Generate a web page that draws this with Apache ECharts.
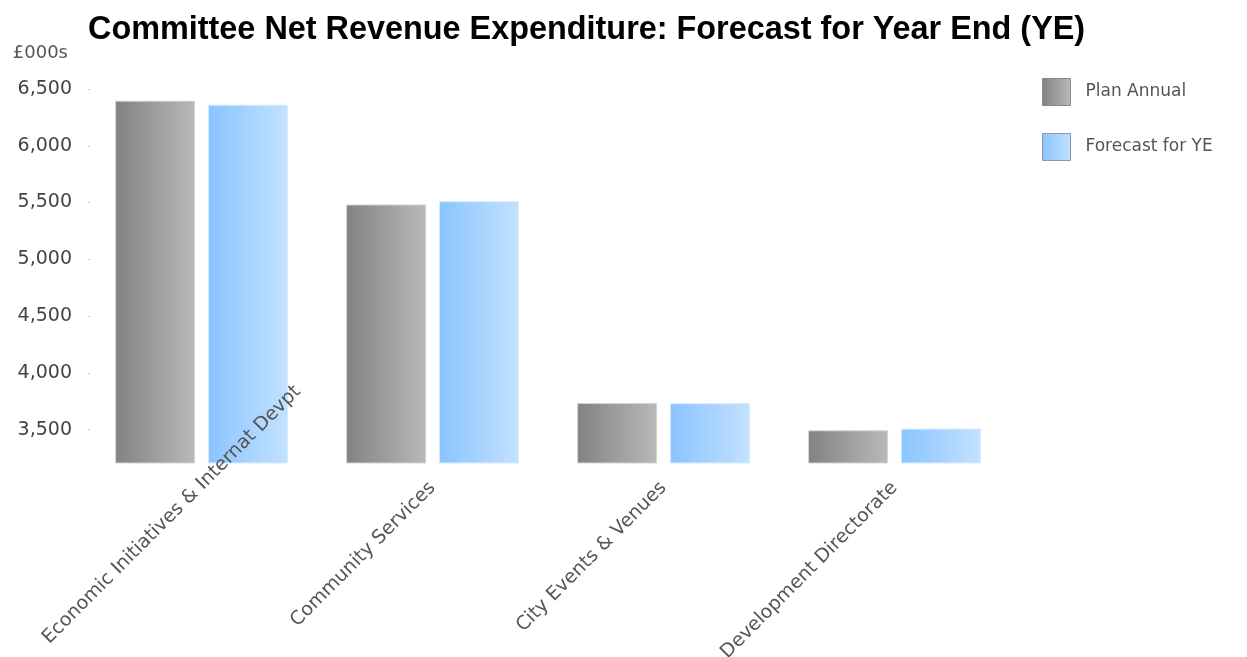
<!DOCTYPE html>
<html>
<head>
<meta charset="utf-8">
<script src="https://cdn.jsdelivr.net/npm/echarts@6/dist/echarts.min.js"></script>
<style>
  html, body { margin: 0; padding: 0; background: #ffffff; }
  #chart { width: 1247px; height: 657px; }
</style>
</head>
<body>
<div id="chart"></div>
<script>
// Committees shown along the x axis
const categories = [
  'Economic Initiatives & Internat Devpt',
  'Community Services',
  'City Events & Venues',
  'Development Directorate'
];

// Net revenue expenditure, £000s
const planAnnual = [6397, 5483, 3735, 3494];
const forecastYE = [6362, 5512, 3733, 3509];

// Labelled values on the y axis
const yTicks = [3500, 4000, 4500, 5000, 5500, 6000, 6500];

const FONT = 'DejaVu Sans';

function hGradient(from, to) {
  return new echarts.graphic.LinearGradient(0, 0, 1, 0, [
    { offset: 0, color: from },
    { offset: 1, color: to }
  ]);
}

const chart = echarts.init(document.getElementById('chart'), null, { renderer: 'canvas' });

// the long first label is pulled up along its slant so it stays on the page
const xAxisData = categories.map(function (name, i) {
  if (i === 0) {
    return { value: name, textStyle: { align: 'center', padding: [0, 84, 0, 0] } };
  }
  return name;
});

chart.setOption({
  animation: false,
  backgroundColor: '#ffffff',
  title: {
    text: 'Committee Net Revenue Expenditure: Forecast for Year End (YE)',
    left: 83,
    top: 9,
    textStyle: {
      fontFamily: 'Liberation Sans',
      fontWeight: 'bold',
      fontSize: 32.4,
      color: '#000000'
    }
  },
  legend: {
    orient: 'vertical',
    left: 1042,
    top: 78,
    padding: 0,
    itemWidth: 28,
    itemHeight: 27,
    itemGap: 27,
    icon: 'rect',
    textStyle: {
      fontFamily: FONT,
      fontSize: 17,
      color: '#555555',
      padding: [0, 0, 0, 10]
    },
    data: [
      { name: 'Plan Annual', itemStyle: { borderColor: '#8a8a8a', borderWidth: 1 } },
      { name: 'Forecast for YE', itemStyle: { borderColor: '#8a9aaa', borderWidth: 1 } }
    ]
  },
  grid: {
    left: 86,
    right: 237,
    top: 89,
    bottom: 194,
    containLabel: false,
    outerBoundsMode: 'none'
  },
  xAxis: {
    type: 'category',
    data: xAxisData,
    z: 5,
    axisLine: { show: false },
    axisTick: { show: false },
    axisLabel: {
      rotate: 45,
      interval: 0,
      margin: 22,
      fontFamily: FONT,
      fontSize: 19,
      color: '#555555'
    }
  },
  yAxis: {
    type: 'value',
    min: 3206,
    max: 6500,
    offset: -4,
    name: '£000s',
    nameLocation: 'end',
    nameGap: 45,
    nameMoveOverlap: false,
    nameTextStyle: {
      fontFamily: FONT,
      fontSize: 18,
      color: '#555555',
      align: 'right',
      verticalAlign: 'top',
      padding: [0, 22, 0, 0]
    },
    axisLine: { show: false },
    splitLine: { show: false },
    axisTick: {
      show: true,
      length: 2,
      customValues: yTicks,
      lineStyle: { color: '#c8c8c8', width: 1 }
    },
    axisLabel: {
      margin: 18,
      customValues: yTicks,
      fontFamily: FONT,
      fontSize: 19,
      color: '#444444',
      formatter: function (v) { return v.toLocaleString('en-US'); }
    }
  },
  series: [
    {
      name: 'Plan Annual',
      type: 'bar',
      data: planAnnual,
      barWidth: 80,
      barGap: '16%',
      itemStyle: {
        color: hGradient('#828282', '#b9b9b9'),
        borderColor: '#d4d4d4',
        borderWidth: 1
      }
    },
    {
      name: 'Forecast for YE',
      type: 'bar',
      data: forecastYE,
      barWidth: 80,
      barGap: '16%',
      itemStyle: {
        color: hGradient('#8ac4ff', '#c3e1ff'),
        borderColor: '#d6ebff',
        borderWidth: 1
      }
    }
  ]
});
</script>
</body>
</html>
